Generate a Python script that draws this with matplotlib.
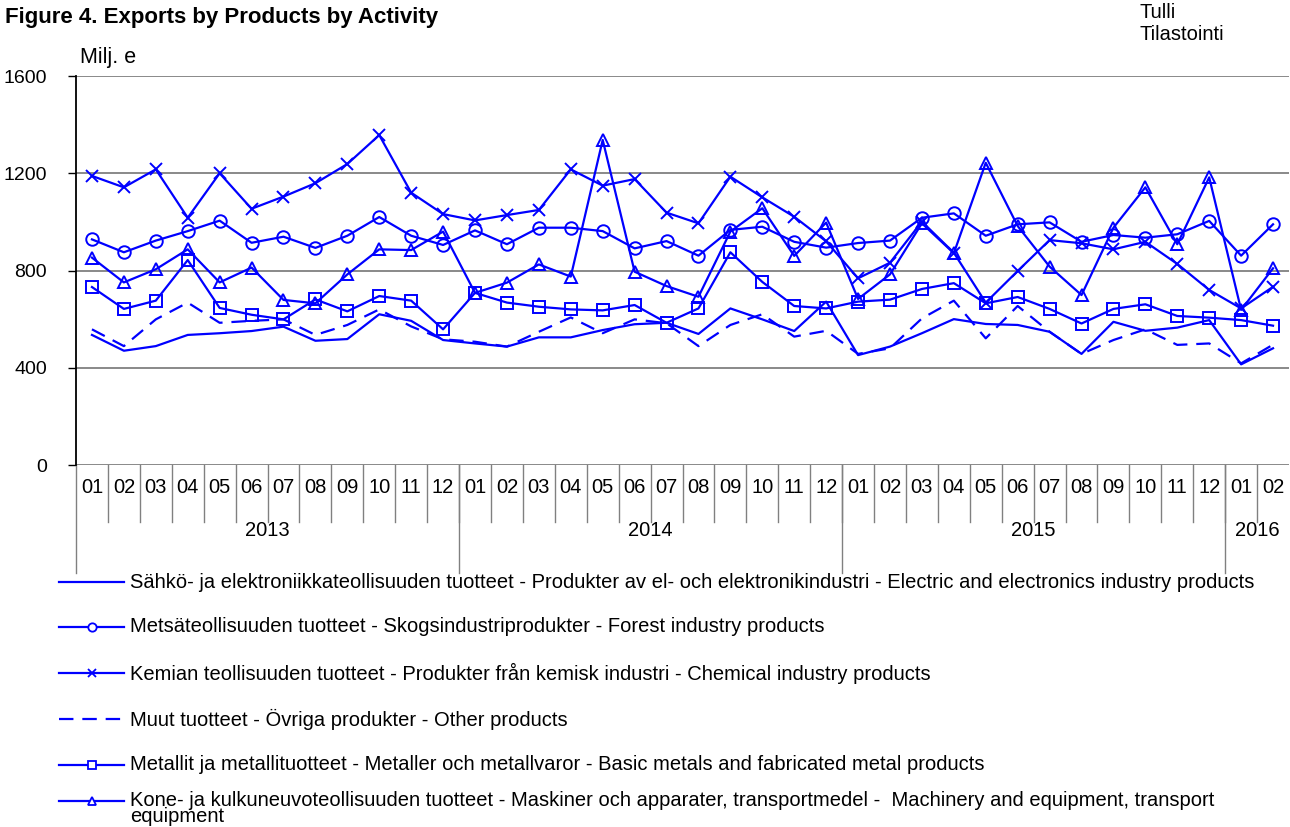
import matplotlib
matplotlib.use('Agg')
import matplotlib.pyplot as plt
from matplotlib.lines import Line2D

plt.rcParams['font.family'] = ['Liberation Sans', 'DejaVu Sans']

months = ['01', '02', '03', '04', '05', '06', '07', '08', '09', '10', '11', '12'] * 3 + ['01', '02']
years = ['2013', '2014', '2015', '2016']
year_lengths = [12, 12, 12, 2]

electric = [535, 470, 489, 535, 542, 551, 569, 511, 518, 620, 593, 514,
            500, 487, 525, 525, 555, 579, 585, 539, 644, 599, 551, 672,
            452, 487, 542, 600, 580, 576, 548, 457, 589, 552, 565, 596,
            414, 480]
forest = [928, 875, 923, 962, 1005, 914, 939, 893, 943, 1020, 943, 905,
          965, 908, 976, 976, 962, 891, 921, 861, 967, 980, 918, 894,
          913, 923, 1017, 1035, 943, 990, 998, 918, 946, 935, 949, 1004,
          861, 990]
chemical = [1189, 1142, 1216, 1017, 1200, 1054, 1104, 1159, 1238, 1357, 1120, 1032,
            1006, 1028, 1049, 1216, 1149, 1176, 1038, 994, 1186, 1101, 1021, 920,
            768, 832, 1001, 873, 668, 798, 925, 912, 887, 918, 827, 720,
            644, 733]
other = [558, 489, 599, 668, 585, 593, 599, 535, 576, 640, 570, 517,
         507, 487, 548, 607, 542, 599, 583, 489, 576, 620, 528, 552,
         457, 480, 603, 676, 521, 654, 548, 457, 514, 558, 494, 500,
         418, 495]
metals = [732, 642, 676, 843, 646, 618, 599, 681, 632, 695, 676, 558,
          708, 668, 651, 640, 636, 658, 585, 644, 875, 753, 654, 644,
          672, 680, 724, 748, 665, 691, 642, 582, 642, 661, 613, 606,
          596, 573]
machinery = [853, 751, 805, 887, 751, 812, 679, 665, 784, 887, 884, 960,
             708, 750, 825, 775, 1337, 795, 736, 692, 960, 1056, 860, 997,
             683, 784, 994, 871, 1243, 983, 816, 699, 976, 1142, 908, 1183,
             638, 809]

labels = [
    'Sähkö- ja elektroniikkateollisuuden tuotteet - Produkter av el- och elektronikindustri - Electric and electronics industry products',
    'Metsäteollisuuden tuotteet - Skogsindustriprodukter - Forest industry products',
    'Kemian teollisuuden tuotteet - Produkter från kemisk industri - Chemical industry products',
    'Muut tuotteet - Övriga produkter - Other products',
    'Metallit ja metallituotteet - Metaller och metallvaror - Basic metals and fabricated metal products',
    'Kone- ja kulkuneuvoteollisuuden tuotteet - Maskiner och apparater, transportmedel -  Machinery and equipment, transport\nequipment',
]
series = [electric, forest, chemical, other, metals, machinery]
markers = [None, 'o', 'x', None, 's', '^']
styles = ['-', '-', '-', '--', '-', '-']

blue = '#0000ff'
W, H = 1290, 827
fig = plt.figure(figsize=(W / 100, H / 100), dpi=100)
ax = fig.add_axes([76 / W, 1 - 465 / H, (1289 - 76) / W, 389 / H])

x = [i + 0.5 for i in range(len(months))]
for vals, mk, ls in zip(series, markers, styles):
    kw = dict(color=blue, lw=1.6, marker=mk, ms=9, mfc='none', mec=blue, mew=1.4)
    if ls == '--':
        kw['dashes'] = (6.5, 4)
    ax.plot(x, vals, **kw)

ax.set_xlim(0, len(months))
ax.set_ylim(0, 1600)
ax.set_yticks([0, 400, 800, 1200, 1600])
ax.yaxis.grid(True, color='#808080', lw=1.3)
ax.set_axisbelow(True)
for s in ['top', 'right', 'bottom']:
    ax.spines[s].set_visible(False)
ax.spines['left'].set_linewidth(1.3)
ax.tick_params(axis='y', direction='out', length=6, width=1, labelsize=14, pad=15)
ax.set_xticks([])

# two-level category axis
tr = ax.get_xaxis_transform()
for i in range(1, len(months)):
    ax.plot([i, i], [0, -0.147], transform=tr, color='#808080', lw=1, clip_on=False)
for i, m in enumerate(months):
    ax.text(i + 0.5, -0.058, m, transform=tr, ha='center', va='center', fontsize=14.5)
pos = 0
for yr, n in zip(years, year_lengths):
    ax.plot([pos, pos], [0, -0.278], transform=tr, color='#808080', lw=1, clip_on=False)
    ax.text(pos + n / 2, -0.168, yr, transform=tr, ha='center', va='center', fontsize=14.5)
    pos += n

fig.text(5 / W, 1 - 18 / H, 'Figure 4. Exports by Products by Activity', fontsize=16,
         fontweight='bold', va='center', ha='left')
fig.text(80 / W, 1 - 57 / H, 'Milj. e', fontsize=15.5, va='center', ha='left')
fig.text(1140 / W, 1 - 13 / H, 'Tulli', fontsize=14.5, va='center', ha='left')
fig.text(1140 / W, 1 - 35 / H, 'Tilastointi', fontsize=14.5, va='center', ha='left')

# legend drawn in figure pixels
ys = [582, 627, 673, 719, 765, 801]
for yy, lab, mk, ls in zip(ys, labels, markers, styles):
    yf = 1 - yy / H
    ln = Line2D([59 / W, 124 / W], [yf, yf], transform=fig.transFigure, color=blue, lw=1.6,
                dashes=(6.5, 4) if ls == '--' else (None, None))
    fig.add_artist(ln)
    if mk:
        fig.add_artist(Line2D([91.5 / W], [yf], transform=fig.transFigure, marker=mk, ms=6,
                              mfc='white', mec=blue, mew=1.3, color=blue))
    if '\n' in lab:
        fig.text(130 / W, 1 - 826.5 / H, lab, fontsize=14.5, va='bottom', ha='left',
                 linespacing=0.8)
    else:
        fig.text(130 / W, yf, lab, fontsize=14.5, va='center', ha='left')

fig.savefig('out.png', dpi=100)
